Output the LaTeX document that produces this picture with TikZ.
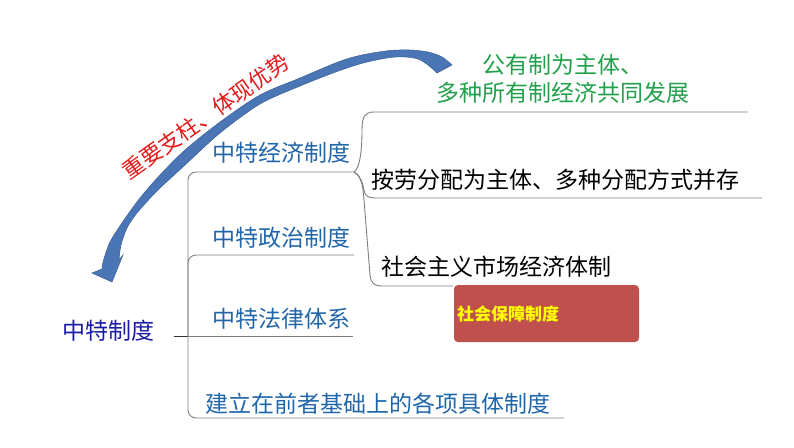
\documentclass[tikz,border=0pt]{standalone}
\usepackage{fontspec}
\setmainfont{Noto Sans CJK SC}
\definecolor{arrowfill}{HTML}{4A76B6}
\definecolor{arrowedge}{HTML}{3A5F95}
\definecolor{midblue}{HTML}{2066AA}
\definecolor{rootblue}{HTML}{1A1AA6}
\definecolor{owngreen}{HTML}{22A04B}
\definecolor{pillarred}{HTML}{E31B1B}
\definecolor{boxred}{HTML}{C0504D}
\definecolor{boxyellow}{HTML}{FFFF00}
\definecolor{linegray}{HTML}{7F7F7F}
\begin{document}
\begin{tikzpicture}[x=1pt,y=-1pt,
  every node/.style={inner sep=0pt,outer sep=0pt},
  bigfont/.style={font=\fontsize{23}{28}\selectfont},
  roottxt/.style={bigfont,anchor=west,text=rootblue},
  lvltxt/.style={bigfont,anchor=west,text=midblue},
  blacktxt/.style={bigfont,anchor=west,text=black},
  greentxt/.style={bigfont,text=owngreen,align=center},
  branchline/.style={draw=linegray,line width=0.9pt,rounded corners=8pt},
  braceline/.style={draw=linegray,line width=0.9pt},
  rootline/.style={draw=black!80,line width=1pt},
  redbox/.style={fill=boxred,rounded corners=4pt,anchor=north west,minimum width=185pt,minimum height=57pt},
  boxtxt/.style={anchor=west,text=boxyellow,font=\fontsize{17}{20}\selectfont\bfseries},
  pillartxt/.style={font=\fontsize{22}{26}\selectfont,text=pillarred,rotate=35.2}
]
\useasboundingbox[fill=white] (0,0) rectangle (794,447);

% curved blue arrow
\filldraw[fill=arrowfill,draw=arrowedge,line width=0.5pt]
  plot[smooth,tension=0.5] coordinates {(452,65) (442,57) (428,52) (410,50) (390,50.5) (367,54) (350,58) (333,64) (300,78) (260,95) (220,122) (185,150) (160,175) (140,198) (124,220) (110,242) (103,262) (102,269)}
  -- (92,273) -- (112,282) -- (123,255) -- (119,260)
  -- plot[smooth,tension=0.5] coordinates {(119,260) (121,245) (127,228) (137,213) (157,191) (185,165) (220,133) (260,104) (300,86) (333,73) (350,67) (367,62) (390,57.5) (405,57) (418,59) (428,65) (437,73)}
  -- cycle;

% texts
\node[pillartxt] (pillar) at (206,116.5) {重要支柱、体现优势};
\node[roottxt] (root) at (62,331) {中特制度};
\node[lvltxt] (econ) at (212,153) {中特经济制度};
\node[lvltxt] (pol) at (212,238) {中特政治制度};
\node[lvltxt] (law) at (212,319) {中特法律体系};
\node[lvltxt] (spec) at (205,404) {建立在前者基础上的各项具体制度};
\node[greentxt] (own) at (563,79) {公有制为主体、\\多种所有制经济共同发展};
\node[blacktxt] (dist) at (371,180) {按劳分配为主体、多种分配方式并存};
\node[blacktxt] (mkt) at (381,267) {社会主义市场经济体制};

% named points of the tree
\coordinate (rootend) at (174,336);
\coordinate (j) at (188,336);
\coordinate (econend) at (354,172);
\coordinate (polend) at (354,255);
\coordinate (lawend) at (353,336);
\coordinate (specend) at (564,418);
\coordinate (ownend) at (748,112);
\coordinate (distend) at (762,198);
\coordinate (mktend) at (453,286);

% first level
\draw[rootline] (rootend) -- (j);
\draw[braceline] (j) -- (lawend);
\draw[branchline] (j) -- (j |- econend) -- (econend);
\draw[branchline] (j) -- (j |- polend) -- (polend);
\draw[branchline] (j) -- (j |- specend) -- (specend);

% second level (brace)
\draw[braceline] (econend) .. controls (360,168) and (362,150) .. (362,130)
  .. controls (362,118) and (364,112) .. (374,112) -- (ownend);
\draw[braceline] (econend) .. controls (361,176) and (363,184) .. (364,190)
  .. controls (365,196) and (368,198) .. (375,198) -- (distend);
\draw[braceline] (econend) .. controls (361,176) and (363,185) .. (364,200)
  -- (370,275) .. controls (371,283) and (374,286) .. (382,286) -- (mktend);

% red box
\node[redbox] (socbox) at (454,285) {};
\node[boxtxt] (soc) at ([xshift=3pt]socbox.west) {社会保障制度};
\end{tikzpicture}
\end{document}
